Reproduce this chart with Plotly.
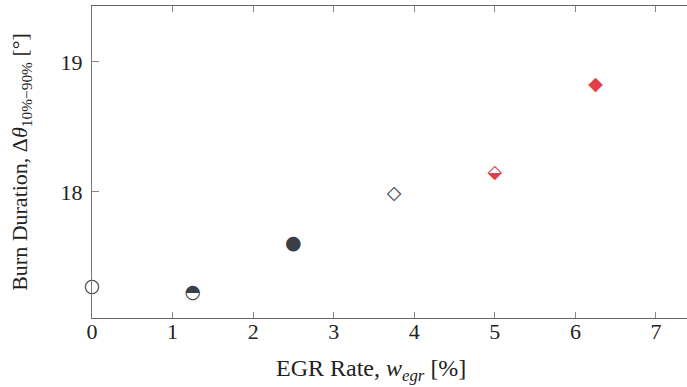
import plotly.graph_objects as go

egr = [0.0, 1.25, 2.5, 3.75, 5.0, 6.25]
burn = [17.27, 17.22, 17.60, 17.98, 18.14, 18.82]
glyphs = ["○", "◓", "●", "◇", "⬙", "◆"]
colors = ["#3a3f45", "#3a3f45", "#3a3f45", "#3a3f45", "#e0404a", "#e0404a"]

x_ticks = [0, 1, 2, 3, 4, 5, 6, 7]
y_ticks = [18, 19]

fig = go.Figure()
fig.add_trace(go.Scatter(
    x=egr, y=burn, mode="text", text=glyphs,
    textfont=dict(family="DejaVu Sans", size=19, color=colors),
    textposition="middle center", showlegend=False, hoverinfo="skip",
    cliponaxis=False,
))

serif = "Liberation Serif"
fig.update_layout(
    width=687, height=387,
    margin=dict(l=92, r=0, t=6, b=69),
    paper_bgcolor="white", plot_bgcolor="white",
    font=dict(family=serif, size=22, color="#222"),
    xaxis=dict(range=[0, 7.385], tickvals=x_ticks, ticks="inside", ticklen=6,
               tickcolor="#888", showline=True, linecolor="#666", mirror="ticks",
               showgrid=False, zeroline=False, automargin=False,
               ticklabelstandoff=-6,
               tickfont=dict(family=serif, size=22)),
    yaxis=dict(range=[17.03, 19.43], tickvals=y_ticks, ticks="inside", ticklen=7,
               tickcolor="#888", showline=True, linecolor="#777", mirror=False,
               showgrid=False, zeroline=False, automargin=False,
               ticklabelstandoff=4,
               tickfont=dict(family=serif, size=22),
               title=dict(text="Burn Duration, Δ<i>θ</i><sub>10%−90%</sub> [°]", standoff=26,
                          font=dict(family=serif, size=22))),
    annotations=[dict(text="EGR Rate, <i>w<sub>egr</sub></i> [%]", xref="paper", yref="paper",
                      x=0.469, y=0, yshift=-52, xanchor="center", yanchor="middle",
                      showarrow=False, font=dict(family=serif, size=24))],
)
fig.write_html("out.html", config={"displayModeBar": False},
               post_script="document.body.style.margin='0';document.body.style.overflow='hidden';")
